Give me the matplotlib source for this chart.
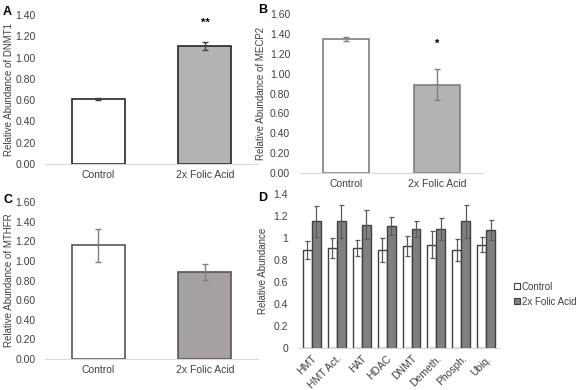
import matplotlib
matplotlib.use('Agg')
import matplotlib.pyplot as plt
import numpy as np
from matplotlib.patches import Patch

plt.rcParams['font.family'] = ['Liberation Sans', 'DejaVu Sans']
plt.rcParams['font.size'] = 7.5

# 数据
groups = ['Control', '2x Folic Acid']
dnmt1 = [0.61, 1.11]
dnmt1_err = [0.01, 0.04]
mecp2 = [1.35, 0.89]
mecp2_err = [0.02, 0.16]
mthfr = [1.16, 0.89]
mthfr_err = [0.17, 0.08]

enzymes = ['HMT', 'HMT Act.', 'HAT', 'HDAC', 'DNMT', 'Demeth.', 'Phosph.', 'Ubiq.']
ctrl = [0.89, 0.91, 0.91, 0.89, 0.93, 0.94, 0.89, 0.94]
ctrl_err = [0.08, 0.09, 0.07, 0.11, 0.09, 0.12, 0.10, 0.07]
folic = [1.15, 1.15, 1.12, 1.11, 1.08, 1.08, 1.15, 1.07]
folic_err = [0.14, 0.15, 0.13, 0.08, 0.07, 0.10, 0.15, 0.09]

fig = plt.figure(figsize=(5.8, 3.9), dpi=100)


def style_axes(ax, ymax, step, fmt):
    for s in ['top', 'right', 'left']:
        ax.spines[s].set_visible(False)
    ax.spines['bottom'].set_color('#d9d9d9')
    ax.set_ylim(0, ymax)
    ticks = np.arange(0, ymax + 1e-9, step)
    ax.set_yticks(ticks)
    ax.set_yticklabels([fmt(t) for t in ticks], color='#404040')
    ax.tick_params(axis='y', length=0, pad=7)
    ax.tick_params(axis='x', length=0, pad=4, colors='#404040')


def two_bar(rect, vals, errs, ymax, ylabel, fill, edge, ecolor, star=None, lpad=4):
    ax = fig.add_axes(rect)
    x = np.arange(len(groups))
    ax.bar(x, vals, width=0.5, color=['white', fill], edgecolor=edge, linewidth=1.2,
           yerr=errs, ecolor=ecolor, capsize=2, error_kw={'elinewidth': 1, 'capthick': 1})
    ax.set_xlim(-0.5, 1.5)
    ax.set_xticks(x)
    ax.set_xticklabels(groups)
    style_axes(ax, ymax, 0.2, lambda t: f'{t:.2f}')
    ax.set_ylabel(ylabel, color='#404040', labelpad=lpad, fontsize=7)
    if star:
        ax.text(1, star[1], star[0], ha='center', va='center', fontsize=8, fontweight='bold')
    return ax


two_bar([0.078, 0.5795, 0.367, 0.382], dnmt1, dnmt1_err, 1.4, 'Relative Abundance of DNMT1',
        '#b3b3b3', '#262626', '#404040', ('**', 1.33), lpad=1)
two_bar([0.517, 0.5564, 0.316, 0.4076], mecp2, mecp2_err, 1.6, 'Relative Abundance of MECP2',
        '#b3b3b3', '#7f7f7f', '#7f7f7f', ('*', 1.30), lpad=3)
two_bar([0.078, 0.0795, 0.367, 0.4025], mthfr, mthfr_err, 1.6, 'Relative Abundance of MTHFR',
        '#a5a1a1', '#555555', '#7f7f7f', lpad=1)

# 面板D
axd = fig.add_axes([0.516, 0.1077, 0.344, 0.395])
x = np.arange(len(enzymes))
w = 0.36
axd.bar(x - w / 2, ctrl, width=w, color='white', edgecolor='#404040', linewidth=1,
        yerr=ctrl_err, ecolor='#595959', capsize=1.8, error_kw={'elinewidth': 0.9, 'capthick': 0.9})
axd.bar(x + w / 2, folic, width=w, color='#808080', edgecolor='#404040', linewidth=1,
        yerr=folic_err, ecolor='#595959', capsize=1.8, error_kw={'elinewidth': 0.9, 'capthick': 0.9})
axd.set_xlim(-0.5, len(enzymes) - 0.5)
axd.set_xticks(x)
axd.set_xticklabels(enzymes, rotation=45, ha='right', rotation_mode='anchor')
style_axes(axd, 1.4, 0.2, lambda t: f'{t:g}')
axd.tick_params(axis='y', pad=8)
axd.set_ylabel('Relative Abundance', color='#404040', labelpad=4, fontsize=7)
handles = [Patch(facecolor='white', edgecolor='#404040', linewidth=0.8),
           Patch(facecolor='#808080', edgecolor='#404040', linewidth=0.8)]
fig.legend(handles, ['Control', '2x Folic Acid'], loc='upper left', bbox_to_anchor=(0.875, 0.295),
           frameon=False, handlelength=0.6, handleheight=0.6, handletextpad=0.15, labelspacing=0.5,
           labelcolor='#404040', fontsize=7, borderpad=0.2)

# 面板字母
for lbl, (px, py) in {'A': (3, 12), 'B': (258, 10), 'C': (3, 200), 'D': (258, 198)}.items():
    fig.text(px / 580, 1 - py / 390, lbl, fontsize=9, fontweight='bold', va='center')

fig.savefig('out.png', dpi=100)
